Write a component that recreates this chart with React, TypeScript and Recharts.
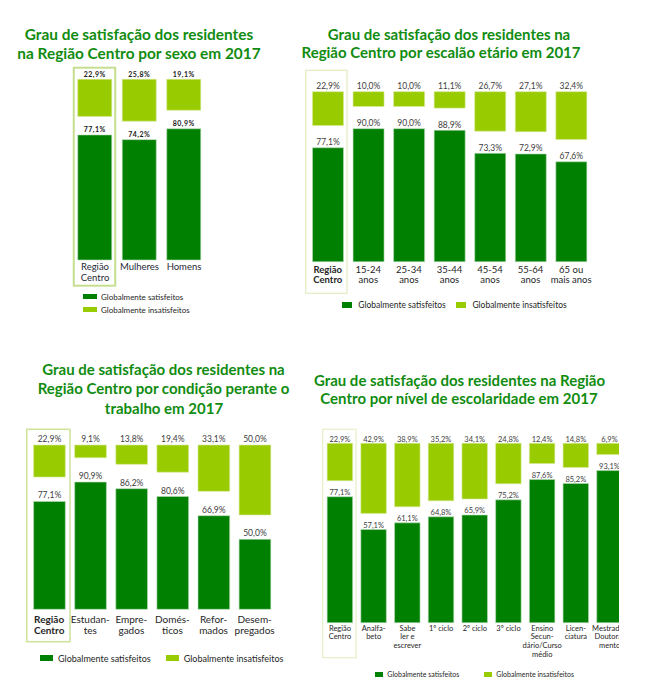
import React from 'react';
import { BarChart, Bar, XAxis, YAxis, LabelList, ReferenceArea, Legend } from 'recharts';

const DARK = '#008000';
const LIGHT = '#99cc00';
const TITLE = '#118c11';
const FONT = 'Lato, "Open Sans", sans-serif';

const seriesNames = ['Globalmente satisfeitos', 'Globalmente insatisfeitos'];

const sexoCats = ['Região\nCentro', 'Mulheres', 'Homens'];
const sexoSat = [77.1, 74.2, 80.9];
const sexoInsat = [22.9, 25.8, 19.1];

const idadeCats = ['Região\nCentro', '15-24\nanos', '25-34\nanos', '35-44\nanos', '45-54\nanos', '55-64\nanos', '65 ou\nmais anos'];
const idadeSat = [77.1, 90.0, 90.0, 88.9, 73.3, 72.9, 67.6];
const idadeInsat = [22.9, 10.0, 10.0, 11.1, 26.7, 27.1, 32.4];

const trabalhoCats = ['Região\nCentro', 'Estudan-\ntes', 'Empre-\ngados', 'Domés-\nticos', 'Refor-\nmados', 'Desem-\npregados'];
const trabalhoSat = [77.1, 90.9, 86.2, 80.6, 66.9, 50.0];
const trabalhoInsat = [22.9, 9.1, 13.8, 19.4, 33.1, 50.0];

const escolaCats = ['Região\nCentro', 'Analfa-\nbeto', 'Sabe\nler e\nescrever', '1º ciclo', '2º ciclo', '3º ciclo', 'Ensino\nSecun-\ndário/Curso\nmédio', 'Licen-\nciatura', 'Mestrado/\nDoutora-\nmento'];
const escolaSat = [77.1, 57.1, 61.1, 64.8, 65.9, 75.2, 87.6, 85.2, 93.1];
const escolaInsat = [22.9, 42.9, 38.9, 35.2, 34.1, 24.8, 12.4, 14.8, 6.9];

const AXIS_H = 30;

const fmt = (v: number) => v.toFixed(1).replace('.', ',') + '%';

type Cfg = {
  left: number; top: number; W: number; H: number; clipW?: number;
  x0: number; x1: number; plotTop: number; plotBottom: number; max: number; barSize: number;
  title: { lines: string[]; cx: number[]; base: number[]; size: number };
  label: { size: number; weight: number; fill: string; gap: number; spacing?: number };
  tick: { size: number; first: number; line: number; boldFirst: boolean; fill: string };
  box: { top: number; bottom: number; inL: number; inR: number; stroke: string; sw: number };
  legend: { vertical: boolean; x: number; cy: number; rowH: number; rowGap: number; itemGap: number; rectW: number; rectH: number; textGap: number; size: number };
};

const sexoCfg: Cfg = {
  left: 0, top: 0, W: 300, H: 330,
  x0: 72.75, x1: 206.25, plotTop: 79.3, plotBottom: 260, max: 111.4, barSize: 34,
  title: { lines: ['Grau de satisfação dos residentes', 'na Região Centro por sexo em 2017'], cx: [139, 139], base: [40, 59], size: 15.4 },
  label: { size: 7, weight: 700, fill: '#1a1a1a', gap: 2.5, spacing: 0.5 },
  tick: { size: 9.5, first: 10, line: 10.5, boldFirst: false, fill: '#1f2a38' },
  box: { top: 11.6, bottom: 25.7, inL: 1, inR: 2, stroke: '#c6df8f', sw: 2 },
  legend: { vertical: true, x: 82.7, cy: 296.7, rowH: 10, rowGap: 3.3, itemGap: 0, rectW: 14, rectH: 5, textGap: 4.3, size: 8 },
};

const idadeCfg: Cfg = {
  left: 300, top: 0, W: 352, H: 330,
  x0: 307.5, x1: 591.4, plotTop: 91.7, plotBottom: 261.7, max: 115, barSize: 31,
  title: { lines: ['Grau de satisfação dos residentes na', 'Região Centro por escalão etário em 2017'], cx: [449, 441], base: [39.5, 58], size: 15 },
  label: { size: 8.5, weight: 400, fill: '#404040', gap: 2.5 },
  tick: { size: 9.5, first: 10.8, line: 10.5, boldFirst: true, fill: '#262626' },
  box: { top: 21.4, bottom: 31.6, inL: -1.8, inR: 1, stroke: '#e2edc0', sw: 1.2 },
  legend: { vertical: false, x: 341.7, cy: 305, rowH: 10, rowGap: 0, itemGap: 10, rectW: 10, rectH: 6, textGap: 6.6, size: 8.5 },
};

const trabalhoCfg: Cfg = {
  left: 0, top: 330, W: 300, H: 363,
  x0: 28.6, x1: 275.2, plotTop: 445, plotBottom: 609.3, max: 117.4, barSize: 31.7,
  title: { lines: ['Grau de satisfação dos residentes na', 'Região Centro por condição perante o', 'trabalho em 2017'], cx: [163.5, 163.5, 164], base: [375, 394, 413.5], size: 15 },
  label: { size: 8.5, weight: 400, fill: '#404040', gap: 3 },
  tick: { size: 10, first: 14, line: 10.7, boldFirst: true, fill: '#262626' },
  box: { top: 15.7, bottom: 32.4, inL: -1.9, inR: -0.3, stroke: '#cde29a', sw: 1.5 },
  legend: { vertical: false, x: 40, cy: 658.3, rowH: 11, rowGap: 0, itemGap: 15, rectW: 13, rectH: 6, textGap: 5, size: 9 },
};

const escolaCfg: Cfg = {
  left: 300, top: 360, W: 340, H: 333, clipW: 319,
  x0: 323.15, x1: 626.45, plotTop: 443.3, plotBottom: 622.7, max: 109.8, barSize: 25.5,
  title: { lines: ['Grau de satisfação dos residentes na Região', 'Centro por nível de escolaridade em 2017'], cx: [459.5, 459], base: [386, 404], size: 15 },
  label: { size: 7.5, weight: 400, fill: '#404040', gap: 1.8 },
  tick: { size: 7.5, first: 7.8, line: 8.8, boldFirst: false, fill: '#262626' },
  box: { top: 14, bottom: 35, inL: -0.5, inR: 0.85, stroke: '#e6efc9', sw: 1.2 },
  legend: { vertical: false, x: 375.3, cy: 674.3, rowH: 9, rowGap: 0, itemGap: 25, rectW: 8, rectH: 5, textGap: 4, size: 7 },
};

function SatChart({ cfg, cats, sat, insat }: { cfg: Cfg; cats: string[]; sat: number[]; insat: number[] }) {
  const data = cats.map((c, i) => ({ cat: c, sat: sat[i], insat: insat[i] }));
  const margin = {
    left: cfg.x0 - cfg.left,
    right: cfg.left + cfg.W - cfg.x1,
    top: cfg.plotTop - cfg.top,
    bottom: cfg.top + cfg.H - cfg.plotBottom - AXIS_H,
  };

  const renderTick = (props: any) => {
    const { x, y, payload, index } = props;
    const lines = String(payload.value).split('\n');
    const bold = cfg.tick.boldFirst && index === 0;
    return (
      <text x={x} y={y + cfg.tick.first} textAnchor="middle" fontSize={cfg.tick.size} fill={cfg.tick.fill}
        fontWeight={bold ? 700 : 400} fontFamily={FONT}>
        {lines.map((l, i) => (
          <tspan key={i} x={x} dy={i === 0 ? 0 : cfg.tick.line}>{l}</tspan>
        ))}
      </text>
    );
  };

  const renderLabel = (p: any) => {
    const { x, y, width, height, value } = p;
    const top = Math.min(Number(y), Number(y) + Number(height));
    return (
      <text x={Number(x) + Number(width) / 2} y={top - cfg.label.gap} textAnchor="middle" fontSize={cfg.label.size}
        fontWeight={cfg.label.weight} fill={cfg.label.fill} fontFamily={FONT} letterSpacing={cfg.label.spacing || 0}>
        {fmt(Number(value))}
      </text>
    );
  };

  const renderBox = (p: any) => (
    <rect
      x={p.x + cfg.box.inL}
      y={p.y - cfg.box.top}
      width={p.width - cfg.box.inL - cfg.box.inR}
      height={p.height + cfg.box.top + cfg.box.bottom}
      fill="none"
      stroke={cfg.box.stroke}
      strokeWidth={cfg.box.sw}
    />
  );

  const lg = cfg.legend;
  const renderLegend = (props: any) => {
    // keep the series order (satisfeitos first)
    const payload = [...(props.payload || [])].sort(
      (a: any, b: any) => seriesNames.indexOf(a.value) - seriesNames.indexOf(b.value)
    );
    return (
      <div style={{ display: 'flex', flexDirection: lg.vertical ? 'column' : 'row', gap: lg.vertical ? lg.rowGap : lg.itemGap,
        fontFamily: FONT, fontSize: lg.size, color: '#262626', whiteSpace: 'nowrap' }}>
        {payload.map((e: any) => (
          <div key={e.value} style={{ display: 'flex', alignItems: 'center', height: lg.rowH, lineHeight: `${lg.rowH}px` }}>
            <span style={{ display: 'inline-block', width: lg.rectW, height: lg.rectH, background: e.color, marginRight: lg.textGap }} />
            <span>{e.value}</span>
          </div>
        ))}
      </div>
    );
  };

  const chart = (
    <BarChart width={cfg.W} height={cfg.H} data={data} margin={margin}>
      <XAxis xAxisId="a" dataKey="cat" height={AXIS_H} axisLine={false} tickLine={false} tickSize={0} tickMargin={0}
        interval={0} tick={renderTick} />
      <XAxis xAxisId="b" dataKey="cat" hide />
      <YAxis yAxisId="a" domain={[0, cfg.max]} hide />
      <YAxis yAxisId="b" domain={[0, cfg.max]} reversed hide />
      <ReferenceArea xAxisId="a" yAxisId="a" x1={cats[0]} x2={cats[0]} y1={0} y2={cfg.max} ifOverflow="visible" shape={renderBox} />
      <Bar xAxisId="a" yAxisId="a" dataKey="sat" name={seriesNames[0]} fill={DARK} stroke="#b9dcb9" strokeWidth={0.6}
        barSize={cfg.barSize} isAnimationActive={false}>
        <LabelList dataKey="sat" content={renderLabel} />
      </Bar>
      <Bar xAxisId="b" yAxisId="b" dataKey="insat" name={seriesNames[1]} fill={LIGHT} stroke="#d6ea9a" strokeWidth={0.6}
        barSize={cfg.barSize} isAnimationActive={false}>
        <LabelList dataKey="insat" content={renderLabel} />
      </Bar>
      <Legend layout="horizontal" verticalAlign="middle" align="center" content={renderLegend}
        wrapperStyle={{ left: lg.x - cfg.left, top: lg.cy - cfg.top - lg.rowH / 2, width: 'auto', height: 'auto' }} />
    </BarChart>
  );

  return (
    <div style={{ position: 'absolute', left: cfg.left, top: cfg.top, width: cfg.clipW || cfg.W, height: cfg.H, overflow: 'hidden' }}>
      {chart}
    </div>
  );
}

function Titles({ cfgs }: { cfgs: Cfg[] }) {
  return (
    <svg width={652} height={693} style={{ position: 'absolute', left: 0, top: 0, pointerEvents: 'none' }}>
      {cfgs.map((c, k) =>
        c.title.lines.map((line, i) => (
          <text key={`${k}-${i}`} x={c.title.cx[i]} y={c.title.base[i]} textAnchor="middle" fontFamily={FONT}
            fontWeight={700} fontSize={c.title.size} fill={TITLE}>
            {line}
          </text>
        ))
      )}
    </svg>
  );
}

export default function App() {
  return (
    <div style={{ position: 'absolute', left: 0, top: 0, width: 652, height: 693, background: '#fff', overflow: 'hidden' }}>
      <SatChart cfg={sexoCfg} cats={sexoCats} sat={sexoSat} insat={sexoInsat} />
      <SatChart cfg={idadeCfg} cats={idadeCats} sat={idadeSat} insat={idadeInsat} />
      <SatChart cfg={trabalhoCfg} cats={trabalhoCats} sat={trabalhoSat} insat={trabalhoInsat} />
      <SatChart cfg={escolaCfg} cats={escolaCats} sat={escolaSat} insat={escolaInsat} />
      <Titles cfgs={[sexoCfg, idadeCfg, trabalhoCfg, escolaCfg]} />
    </div>
  );
}
